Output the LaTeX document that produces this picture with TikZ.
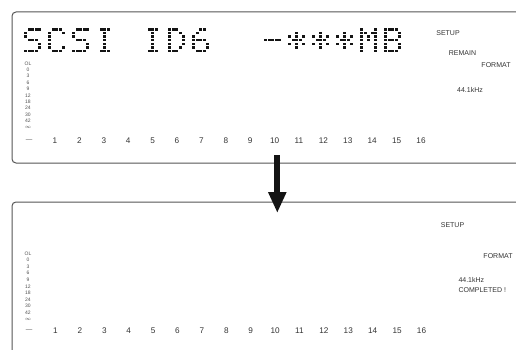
\documentclass[tikz,border=0pt]{standalone}
\usepackage{fontspec}
\setmainfont{Liberation Sans}
\usetikzlibrary{arrows.meta}
\definecolor{lcdline}{HTML}{555555}
\definecolor{lcddot}{HTML}{141414}
\definecolor{lcdtext}{HTML}{333333}
\definecolor{lcdscale}{HTML}{505050}

% 5x7 glyphs, row/{lit columns}
\newcommand\glyphS{0/{1,2,3,4},1/{0},2/{0},3/{1,2,3},4/{4},5/{4},6/{0,1,2,3}}
\newcommand\glyphC{0/{1,2,3},1/{0,4},2/{0},3/{0},4/{0},5/{0,4},6/{1,2,3}}
\newcommand\glyphI{0/{1,2,3},1/{2},2/{2},3/{2},4/{2},5/{2},6/{1,2,3}}
\newcommand\glyphD{0/{0,1,2},1/{0,3},2/{0,4},3/{0,4},4/{0,4},5/{0,3},6/{0,1,2}}
\newcommand\glyphSix{0/{2,3},1/{1},2/{0},3/{0,1,2,3},4/{0,4},5/{0,4},6/{1,2,3}}
\newcommand\glyphDash{3/{0,1,2,3,4}}
\newcommand\glyphStar{1/{2},2/{0,2,4},3/{1,2,3},4/{0,2,4},5/{2}}
\newcommand\glyphM{0/{0,4},1/{0,1,3,4},2/{0,2,4},3/{0,2,4},4/{0,4},5/{0,4},6/{0,4}}
\newcommand\glyphB{0/{0,1,2,3},1/{0,4},2/{0,4},3/{0,1,2,3},4/{0,4},5/{0,4},6/{0,1,2,3}}

% #1 cell number, #2 glyph
\newcommand\lcdchar[2]{%
  \foreach \r/\cols in #2 {
    \foreach \c in \cols {
      \fill[lcddot] ({24+24*#1+3.6*\c},{28.3+3.6*\r}) rectangle ++(3,2.4);
    }
  }}

\begin{document}
\begin{tikzpicture}[
  x=1pt, y=-1pt,
  panel/.style={draw=lcdline, line width=1pt, rounded corners=4pt},
  tag/.style={inner sep=0pt, text=lcdtext, font=\fontsize{7}{8}\selectfont},
  chan/.style={inner sep=0pt, text=lcdtext, font=\fontsize{8.2}{9}\selectfont},
  dbmark/.style={inner sep=0pt, text=lcdscale, font=\fontsize{5}{5}\selectfont},
  bigarr/.style={-{Triangle[length=21pt 0, width=17pt 0]}, line width=6pt, lcddot},
]
  \useasboundingbox (0,0) rectangle (516,350);
  % Panels (open to the right)
  \draw[panel] (516,12) -- (12,12) -- (12,163) -- (516,163);
  \draw[panel] (516,202) -- (12,202) -- (12,351);

  % Dot matrix line: SCSI ID6 -***MB
  \lcdchar{0}{\glyphS}
  \lcdchar{1}{\glyphC}
  \lcdchar{2}{\glyphS}
  \lcdchar{3}{\glyphI}
  \lcdchar{5}{\glyphI}
  \lcdchar{6}{\glyphD}
  \lcdchar{7}{\glyphSix}
  \lcdchar{10}{\glyphDash}
  \foreach \k in {11,12,13} {\lcdchar{\k}{\glyphStar}}
  \lcdchar{14}{\glyphM}
  \lcdchar{15}{\glyphB}

  % Level scales and channel numbers
  \foreach \m [count=\i from 0] in {OL,0,3,6,9,12,18,24,30,42,$\infty$} {
    \node[dbmark] (dbA-\i) at (28,{63.3+6.4*\i}) {\m};
    \node[dbmark] (dbB-\i) at (28,{253.3+6.6*\i}) {\m};
  }
  \node[dbmark, font=\fontsize{6.5}{6.5}\selectfont] (offA) at (29,141) {—};
  \node[dbmark, font=\fontsize{6.5}{6.5}\selectfont] (offB) at (29,331) {—};
  \foreach \n in {1,...,16} {
    \node[chan] (chA-\n) at ({55+24.4*(\n-1)},141) {\n};
    \node[chan] (chB-\n) at ({55.5+24.4*(\n-1)},331) {\n};
  }

  % Status indicators, top
  \node[tag] (setupA) at (448,33.3) {SETUP};
  \node[tag] (remainA) at (462.5,52.7) {REMAIN};
  \node[tag] (formatA) at (496,65) {FORMAT};
  \node[tag] (rateA) at (470,90) {44.1kHz};
  % Status indicators, bottom
  \node[tag] (setupB) at (452.5,225) {SETUP};
  \node[tag] (formatB) at (498,256) {FORMAT};
  \node[tag, anchor=west] (rateB) at (458.3,280) {44.1kHz};
  \node[tag, anchor=west] (doneB) at (458.3,290) {COMPLETED !};

  % Transition arrow
  \coordinate (arrfrom) at (277.3,155);
  \coordinate (arrto) at (277.3,213);
  \draw[bigarr] (arrfrom) -- (arrto);
\end{tikzpicture}
\end{document}
